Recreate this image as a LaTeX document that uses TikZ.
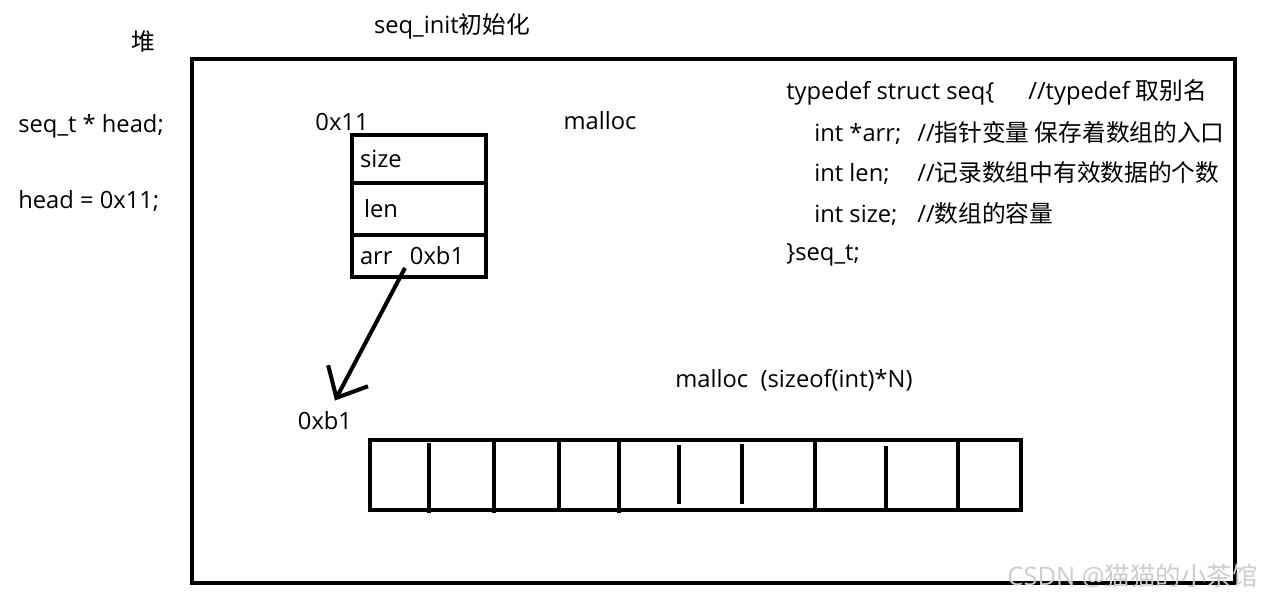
\documentclass[tikz,border=0pt]{standalone}
\usepackage{fontspec}
\usepackage{tikz}
\usetikzlibrary{arrows.meta, positioning}
\setmainfont{Open Sans}
\newfontfamily\cjk{Noto Sans CJK SC}
\definecolor{MarkGray}{RGB}{205, 205, 205}

\begin{document}
\begin{tikzpicture}[x=0.02cm, y=-0.02cm,
    txt/.style={inner sep=0pt, font=\fontsize{13.5}{16}\selectfont},
    frame/.style={draw, line width=2.3pt, anchor=north west},
    cell/.style={draw, line width=2.6pt, minimum width=2.68cm, text width=2.36cm, outer sep=0pt,
                 inner xsep=0.16cm, inner ysep=0pt, align=left, font=\fontsize{13.5}{16}\selectfont},
    bar/.style={line width=2.3pt},
    ptr/.style={line width=2.3pt, -{Straight Barb[length=0.5cm, width=0.9cm]}}]
  \useasboundingbox (0,0) rectangle (1263,598);

  \node[txt] (heaplbl) at (143,42) {\cjk 堆};
  \node[txt] (title) at (452,26) {seq\_init{\cjk 初始化}};
  \node[txt, anchor=west] (decl) at (18,126) {seq\_t * head;};
  \node[txt, anchor=west] (assign) at (18,201) {head = 0x11;};

  \node[frame, minimum width=20.86cm, minimum height=10.48cm] (heap) at (190,57) {};

  \node[txt] (base) at (342,122) {0x11};
  \node[cell, anchor=north west, minimum height=0.96cm] (sz) at (352,135) {size};
  \node[cell, below=0pt of sz, minimum height=1.04cm] (ln) {\hspace{0.08cm}len};
  \node[cell, below=0pt of ln, minimum height=0.84cm] (ac) {\makebox[1.0cm][l]{arr}0xb1};
  \node[txt] (m1) at (600,121) {malloc};

  \node[txt, anchor=west] (c1) at (786,92) {\makebox[4.84cm][l]{typedef struct seq\{}//typedef {\cjk 取别名}};
  \node[txt, anchor=west] (c2) at (814,133) {\makebox[2.06cm][l]{int *arr;}//{\cjk 指针变量 保存着数组的入口}};
  \node[txt, anchor=west] (c3) at (814,173) {\makebox[2.06cm][l]{int len;}//{\cjk 记录数组中有效数据的个数}};
  \node[txt, anchor=west] (c4) at (814,214) {\makebox[2.06cm][l]{int size;}//{\cjk 数组的容量}};
  \node[txt, anchor=west] (c5) at (786,255) {\}seq\_t;};

  \node[txt] (addr) at (325,421) {0xb1};
  \draw[ptr] ([xshift=1.06cm, yshift=0.18cm]ac.south west) -- ([xshift=0.2cm, yshift=0.22cm]addr.north);

  \node[txt] (m2) at (794,380) {malloc \ (sizeof(int)*N)};
  \node[frame, minimum width=13.02cm, minimum height=1.4cm] (buf) at (368,438) {};
  \foreach \x/\a/\b in {429/443/513, 494/438/513, 559/438/508, 619/438/513, 679/445/504,
                        742/444/504, 815/438/508, 886/446/511, 958/438/512}
    \draw[bar] (\x,\a) -- (\x,\b);

  \node[txt, text=MarkGray, anchor=east, font=\fontsize{14.5}{17}\selectfont] (wm) at (1258,576) {CSDN @{\cjk 猫猫的小茶馆}};
\end{tikzpicture}
\end{document}
